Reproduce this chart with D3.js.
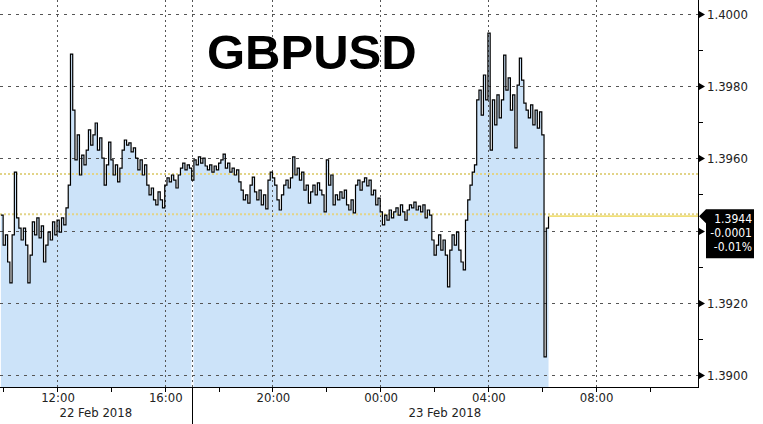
<!DOCTYPE html>
<html><head><meta charset="utf-8">
<script src="https://cdn.jsdelivr.net/npm/d3@7"></script>
<style>html,body{margin:0;padding:0;background:#fff;overflow:hidden}</style>
</head><body>
<svg id="c" width="763" height="424"></svg>
<script>
// ---------- DATA ----------
const title = "GBPUSD";
const startTime = new Date(2018, 1, 22, 9, 55);
const stepMinutes = 5;
const prices = [
1.39443,1.39360,1.39388,1.39313,1.39255,1.39388,1.39562,1.39435,1.39407,1.39374,
1.39407,1.39360,1.39255,1.39332,1.39424,1.39388,1.39435,1.39380,1.39413,1.39313,
1.39360,1.39396,1.39374,1.39424,1.39388,1.39429,1.39396,1.39435,1.39416,1.39463,
1.39526,1.39889,1.39734,1.39596,1.39665,1.39554,1.39609,1.39582,1.39623,1.39679,
1.39637,1.39665,1.39698,1.39623,1.39657,1.39601,1.39526,1.39582,1.39645,1.39596,
1.39554,1.39582,1.39535,1.39573,1.39623,1.39651,1.39637,1.39643,1.39618,1.39629,
1.39601,1.39568,1.39596,1.39554,1.39582,1.39526,1.39499,1.39518,1.39485,1.39471,
1.39507,1.39485,1.39463,1.39526,1.39546,1.39535,1.39554,1.39540,1.39518,1.39554,
1.39573,1.39587,1.39568,1.39582,1.39573,1.39540,1.39596,1.39582,1.39604,1.39587,
1.39601,1.39579,1.39568,1.39582,1.39562,1.39579,1.39568,1.39587,1.39596,1.39612,
1.39573,1.39587,1.39562,1.39573,1.39554,1.39568,1.39535,1.39512,1.39485,1.39499,
1.39476,1.39526,1.39548,1.39507,1.39485,1.39512,1.39471,1.39499,1.39460,1.39540,
1.39562,1.39546,1.39526,1.39485,1.39457,1.39499,1.39526,1.39540,1.39518,1.39546,
1.39604,1.39554,1.39573,1.39540,1.39562,1.39512,1.39526,1.39476,1.39507,1.39526,
1.39499,1.39532,1.39512,1.39499,1.39452,1.39596,1.39526,1.39554,1.39471,1.39499,
1.39485,1.39507,1.39490,1.39512,1.39471,1.39457,1.39485,1.39449,1.39526,1.39540,
1.39512,1.39535,1.39546,1.39524,1.39540,1.39499,1.39512,1.39471,1.39490,1.39452,
1.39416,1.39443,1.39429,1.39457,1.39435,1.39452,1.39463,1.39443,1.39471,1.39452,
1.39429,1.39457,1.39471,1.39463,1.39479,1.39457,1.39468,1.39452,1.39471,1.39435,
1.39457,1.39443,1.39374,1.39332,1.39360,1.39388,1.39346,1.39374,1.39332,1.39244,
1.39346,1.39388,1.39360,1.39396,1.39346,1.39313,1.39291,1.39429,1.39485,1.39526,
1.39562,1.39582,1.39762,1.39789,1.39720,1.39831,1.39762,1.39947,1.39623,1.39762,
1.39693,1.39776,1.39712,1.39762,1.39886,1.39789,1.39823,1.39734,1.39776,1.39629,
1.39803,1.39878,1.39817,1.39753,1.39734,1.39712,1.39748,1.39693,1.39734,1.39684,
1.39729,1.39665,1.39050,1.39407,1.39440
];
const yMajorTicks = [1.3900, 1.3920, 1.3940, 1.3960, 1.3980, 1.4000];
const yLabelTicks = [1.3900, 1.3920, 1.3960, 1.3980, 1.4000]; // 1.3940 is hidden behind the last-value box
const yMinorTicks = [1.3910, 1.3930, 1.3950, 1.3970, 1.3990];
const xMajorTicks = [new Date(2018,1,22,12), new Date(2018,1,22,16), new Date(2018,1,22,20),
                     new Date(2018,1,23,0), new Date(2018,1,23,4), new Date(2018,1,23,8)];
const xMinorTicks = [new Date(2018,1,22,10), new Date(2018,1,22,14), new Date(2018,1,22,18),
                     new Date(2018,1,22,22), new Date(2018,1,23,2), new Date(2018,1,23,6), new Date(2018,1,23,10)];
const xDomain = [new Date(2018,1,22,9,53), new Date(2018,1,23,11,48)];
const daySeparator = new Date(2018,1,22,17,0);
const dayLabels = ["22 Feb 2018", "23 Feb 2018"];
const refLines = [1.39557, 1.39445];
const lastValue = 1.3944;
const lastLabels = ["1.3944", "-0.0001", "-0.01%"];

// ---------- CHART ----------
const W = 763, H = 424, axisX = 698, plotBottom = 387;
const svg = d3.select("#c");
const font = "'DejaVu Sans Condensed','DejaVu Sans',sans-serif";

const x = d3.scaleTime().domain(xDomain).range([0, axisX]);
const y = d3.scaleLinear().domain([1.39, 1.40]).range([375, 14]);

const data = prices.map((p, i) => ({ t: new Date(startTime.getTime() + i * stepMinutes * 60000), p }));

// fill
svg.append("path").datum(data)
  .attr("d", d3.area().curve(d3.curveStepAfter).x(d => x(d.t)).y0(plotBottom).y1(d => y(d.p)))
  .attr("fill", "#cce3f9");

// day separator (white gap through fill)
const xs = Math.round(x(daySeparator)) + 0.5;
svg.append("line").attr("x1", xs).attr("x2", xs).attr("y1", 0).attr("y2", plotBottom)
  .attr("stroke", "#fff").attr("stroke-width", 2);

// grid
const grid = svg.append("g").attr("shape-rendering", "crispEdges");
grid.selectAll(".hg").data(yMajorTicks).join("line")
  .attr("x1", 0).attr("x2", axisX).attr("y1", d => Math.round(y(d)) + 0.5).attr("y2", d => Math.round(y(d)) + 0.5)
  .attr("stroke", "#555").attr("stroke-dasharray", "3,5");
grid.selectAll(".vg").data(xMajorTicks.concat([daySeparator])).join("line")
  .attr("x1", d => Math.round(x(d)) + 0.5).attr("x2", d => Math.round(x(d)) + 0.5)
  .attr("y1", 0).attr("y2", plotBottom)
  .attr("stroke", "#555").attr("stroke-dasharray", "2,3");

// reference lines
svg.selectAll(".ref").data(refLines).join("line")
  .attr("x1", 0).attr("x2", axisX).attr("y1", d => y(d)).attr("y2", d => y(d))
  .attr("stroke", "#e2d488").attr("stroke-width", 2).attr("stroke-dasharray", "2,2");

// price line
svg.append("path").datum(data)
  .attr("d", d3.line().curve(d3.curveStepAfter).x(d => x(d.t)).y(d => y(d.p)))
  .attr("fill", "none").attr("stroke", "#000").attr("stroke-width", 1.2);

// last value line
const last = data[data.length - 1];
svg.append("line").attr("x1", x(last.t)).attr("x2", axisX).attr("y1", y(lastValue)).attr("y2", y(lastValue))
  .attr("stroke", "#f0df78").attr("stroke-width", 1.6);

// right axis
const ax = svg.append("g");
ax.append("line").attr("x1", axisX + 0.5).attr("x2", axisX + 0.5).attr("y1", 0).attr("y2", plotBottom + 0.5)
  .attr("stroke", "#000").attr("shape-rendering", "crispEdges");
ax.selectAll(".mt").data(yMajorTicks).join("path")
  .attr("d", d => { const yy = Math.round(y(d)) + 0.5; return `M${axisX + 1},${yy - 3.5}L${axisX + 7},${yy}L${axisX + 1},${yy + 3.5}Z`; })
  .attr("fill", "#000");
ax.selectAll(".mn").data(yMinorTicks).join("line")
  .attr("x1", axisX).attr("x2", axisX + 5).attr("y1", d => Math.round(y(d)) + 0.5).attr("y2", d => Math.round(y(d)) + 0.5)
  .attr("stroke", "#000").attr("shape-rendering", "crispEdges");
ax.selectAll(".yl").data(yLabelTicks).join("text")
  .attr("x", axisX + 9).attr("y", d => y(d) + 5)
  .attr("font-family", font).attr("font-size", 13).attr("fill", "#222")
  .text(d => d.toFixed(4));

// bottom axis
const bx = svg.append("g").attr("shape-rendering", "crispEdges");
bx.append("line").attr("x1", 0).attr("x2", axisX + 1).attr("y1", plotBottom + 0.5).attr("y2", plotBottom + 0.5).attr("stroke", "#000");
bx.selectAll(".xt").data(xMajorTicks.concat(xMinorTicks)).join("line")
  .attr("x1", d => Math.round(x(d)) + 0.5).attr("x2", d => Math.round(x(d)) + 0.5)
  .attr("y1", plotBottom).attr("y2", plotBottom + 5).attr("stroke", "#000");
bx.append("line").attr("x1", xs).attr("x2", xs).attr("y1", plotBottom).attr("y2", H).attr("stroke", "#000");
const fmt = d3.timeFormat("%H:%M");
svg.selectAll(".xl").data(xMajorTicks).join("text")
  .attr("x", d => x(d) + 1).attr("y", 402).attr("text-anchor", "middle")
  .attr("font-family", font).attr("font-size", 13).attr("fill", "#222")
  .text(d => fmt(d));
const daySpans = [[0, x(daySeparator)], [x(daySeparator), axisX]];
svg.selectAll(".dl").data(dayLabels).join("text")
  .attr("x", (d, i) => (daySpans[i][0] + daySpans[i][1]) / 2).attr("y", 417).attr("text-anchor", "middle")
  .attr("font-family", font).attr("font-size", 13).attr("fill", "#222")
  .text(d => d);

// last value box
const ly = y(lastValue);
svg.append("path")
  .attr("d", `M${axisX + 1},${ly} L${axisX + 8},${ly - 7} L754,${ly - 7} L754,${ly + 42} L${axisX + 8},${ly + 42} L${axisX + 8},${ly + 7} Z`)
  .attr("fill", "#000");
svg.selectAll(".bl").data(lastLabels).join("text")
  .attr("x", 752).attr("y", (d, i) => ly + 6.5 + i * 14).attr("text-anchor", "end")
  .attr("font-family", font).attr("font-size", 12).attr("fill", "#fff")
  .text(d => d);

// title
svg.append("text").attr("x", 207).attr("y", 69)
  .attr("font-family", "'Liberation Sans',Arial,sans-serif").attr("font-weight", "bold").attr("font-size", 49)
  .attr("fill", "#000").text(title);
</script>
</body></html>
